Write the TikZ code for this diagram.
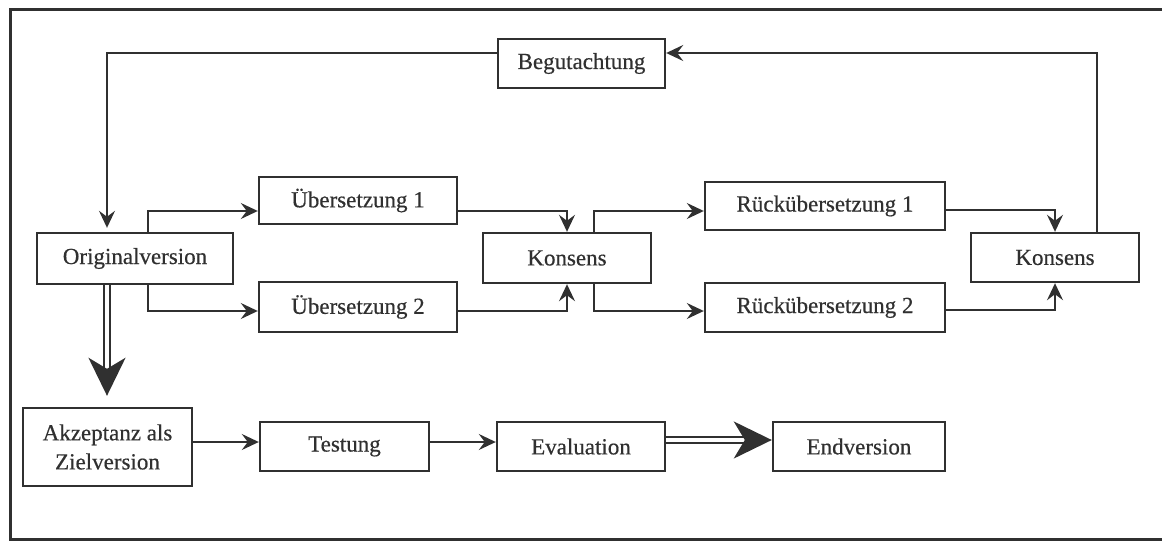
\documentclass[tikz,border=0pt]{standalone}
\usepackage{fontspec}
\setmainfont[FakeBold=0.5]{Liberation Serif}
\usetikzlibrary{arrows.meta}
\definecolor{ink}{HTML}{303030}
\begin{document}
\begin{tikzpicture}[x=1pt,y=-1pt,
  box/.style={draw=ink, line width=2.4pt, inner sep=0pt, text=ink,
    font=\fontsize{23}{29}\selectfont, align=center},
  arr/.style={draw=ink, line width=1.8pt,
    -{Stealth[length=17pt,width=16pt,inset=6pt]}},
  dbl/.style={draw=ink, double=white, double distance=4pt, line width=2pt,
    -{Stealth[length=38pt,width=37pt,inset=11pt]}},
  frame/.style={draw=ink, line width=3pt}]
\useasboundingbox (0,0) rectangle (1162,541);

% outer frame (open on the right)
\draw[frame] (1162,9) -- (10,9) -- (10,539) -- (1162,539);

% process steps
\node[box, minimum width=167pt, minimum height=49pt] (beg)  at (581.5,63.5) {Begutachtung};
\node[box, minimum width=196pt, minimum height=51pt] (orig) at (135,258.5)  {Originalversion};
\node[box, minimum width=198pt, minimum height=47pt] (ueb1) at (358,200.5)  {Übersetzung 1};
\node[box, minimum width=198pt, minimum height=50pt] (ueb2) at (358,307)    {Übersetzung 2};
\node[box, minimum width=168pt, minimum height=50pt] (kon1) at (567,258)    {Konsens};
\node[box, minimum width=240pt, minimum height=48pt] (rue1) at (825,206)    {Rückübersetzung 1};
\node[box, minimum width=240pt, minimum height=49pt] (rue2) at (825,307.5)  {Rückübersetzung 2};
\node[box, minimum width=168pt, minimum height=49pt] (kon2) at (1055,257.5) {Konsens};
\node[box, minimum width=169pt, minimum height=78pt] (akz)  at (107.5,447)  {Akzeptanz als\\Zielversion};
\node[box, minimum width=169pt, minimum height=49pt] (test) at (344.5,446.5) {Testung};
\node[box, minimum width=168pt, minimum height=49pt] (eval) at (581,446.5)  {Evaluation};
\node[box, minimum width=172pt, minimum height=49pt] (endv) at (859,446.5)  {Endversion};

% review loop
\draw[arr] ([xshift=42pt]kon2.north) |- ([yshift=10.5pt]beg.east);
\draw[arr, shorten >=4pt] ([yshift=10.5pt]beg.west) -| ([xshift=-28pt]orig.north);

% forward translations
\draw[arr] ([xshift=13pt]orig.north) |- ([yshift=-10.5pt]ueb1.west);
\draw[arr] ([xshift=13pt]orig.south) |- ([yshift=-4pt]ueb2.west);
\draw[arr] ([yshift=-10.5pt]ueb1.east) -| (kon1.north);
\draw[arr] ([yshift=-4pt]ueb2.east) -| (kon1.south);

% back translations
\draw[arr] ([xshift=27pt]kon1.north) |- ([yshift=-5pt]rue1.west);
\draw[arr] ([xshift=27pt]kon1.south) |- ([yshift=-3.5pt]rue2.west);
\draw[arr] ([yshift=-4pt]rue1.east) -| (kon2.north);
\draw[arr] ([yshift=-2.5pt]rue2.east) -| (kon2.south);

% acceptance and final chain
\draw[dbl, shorten >=11pt] ([xshift=-28pt]orig.south) -- ([xshift=-28pt]orig.south |- akz.north);
\draw[arr] ([yshift=4.5pt]test.west -| akz.east) -- ([yshift=4.5pt]test.west);
\draw[arr] ([yshift=4.5pt]test.east) -- ([yshift=4.5pt]eval.west);
\draw[dbl] ([yshift=6.5pt]eval.east) -- ([yshift=6.5pt]endv.west);
\end{tikzpicture}
\end{document}
